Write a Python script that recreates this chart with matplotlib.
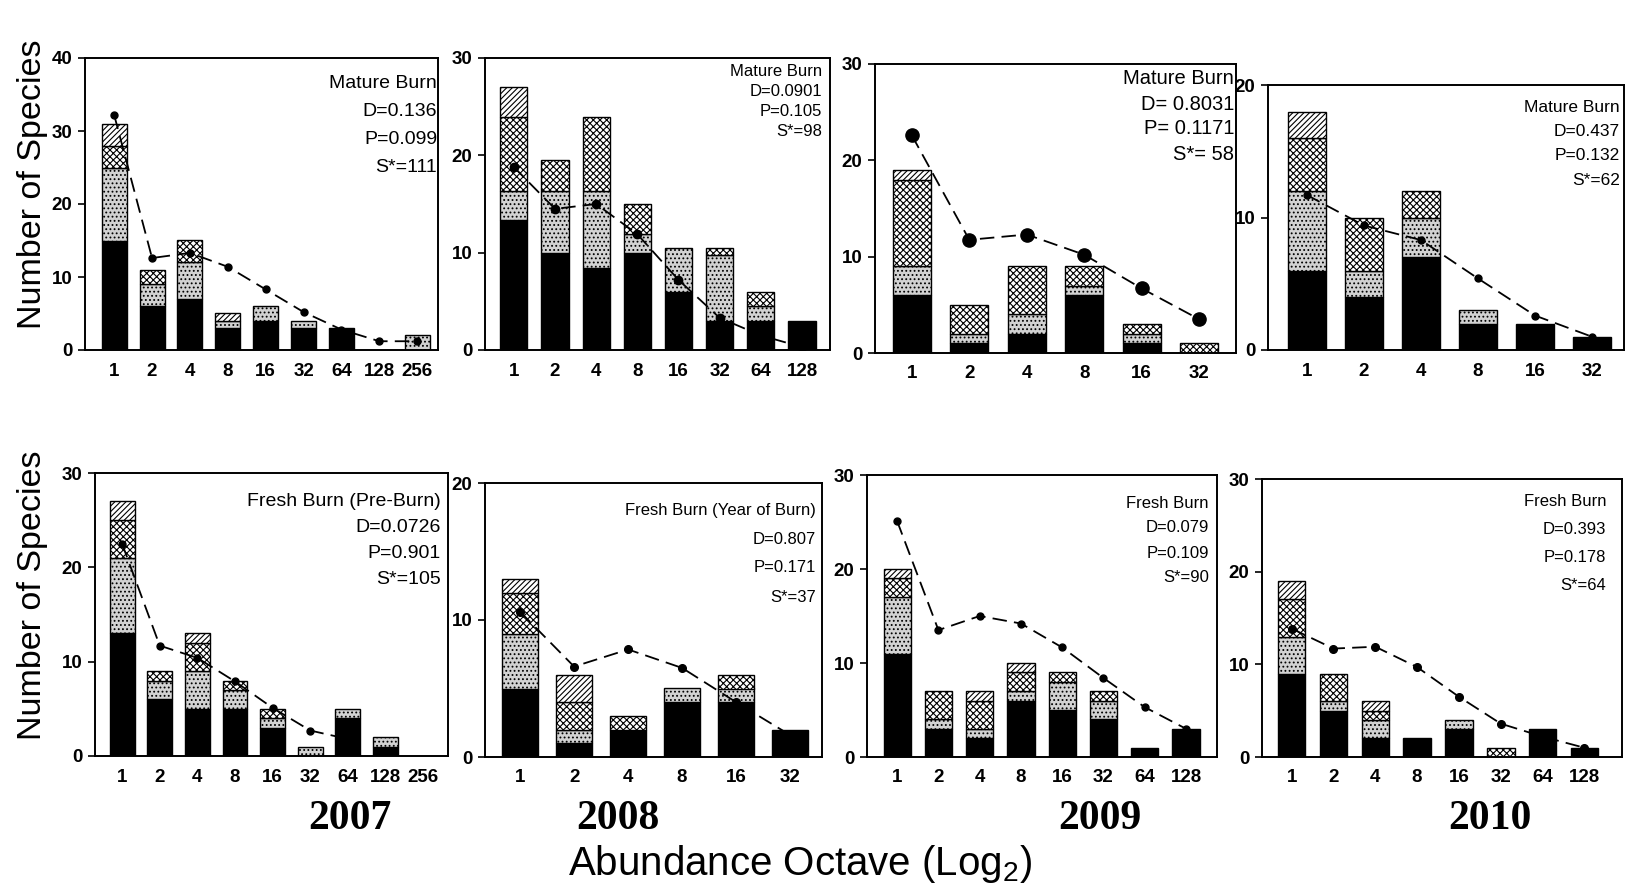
import numpy as np
import matplotlib
matplotlib.use("Agg")
import matplotlib.pyplot as plt

W, H = 1630, 893

# ---------------- data ----------------
oct9 = ['1', '2', '4', '8', '16', '32', '64', '128', '256']
oct8 = oct9[:8]
oct6 = oct9[:6]

# Mature burn
m07_black = [15, 6, 7, 3, 4, 3, 3, 0, 0]
m07_gray = [10, 3, 5, 1, 2, 1, 0, 0, 2]
m07_cross = [3, 2, 3, 0, 0, 0, 0, 0, 0]
m07_diag = [3, 0, 0, 1, 0, 0, 0, 0, 0]
m07_fit = [32.2, 12.6, 13.3, 11.4, 8.3, 5.2, 2.8, 1.2, 1.2]

m08_black = [13.4, 10, 8.4, 10, 6, 3, 3, 3]
m08_gray = [2.9, 6.3, 7.9, 1.9, 4.5, 6.8, 1.5, 0]
m08_cross = [7.6, 3.2, 7.6, 3.1, 0, 0.7, 1.5, 0]
m08_diag = [3.1, 0, 0, 0, 0, 0, 0, 0]
m08_fit = [18.8, 14.5, 15.0, 11.9, 7.2, 3.3, 1.5, 0.3]

m09_black = [6, 1, 2, 6, 1, 0]
m09_gray = [3, 1, 2, 1, 1, 0]
m09_cross = [9, 3, 5, 2, 1, 1]
m09_diag = [1, 0, 0, 0, 0, 0]
m09_fit = [22.6, 11.75, 12.3, 10.2, 6.7, 3.5]

m10_black = [6, 4, 7, 2, 2, 1]
m10_gray = [6, 2, 3, 1, 0, 0]
m10_cross = [4, 4, 2, 0, 0, 0]
m10_diag = [2, 0, 0, 0, 0, 0]
m10_fit = [11.7, 9.4, 8.3, 5.4, 2.6, 1.0]

# Fresh burn
f07_black = [13, 6, 5, 5, 3, 0, 4, 1, 0]
f07_gray = [8, 2, 4, 2, 1, 1, 1, 1, 0]
f07_cross = [4, 1, 3, 1, 1, 0, 0, 0, 0]
f07_diag = [2, 0, 1, 0, 0, 0, 0, 0, 0]
f07_fit = [22.5, 11.7, 10.4, 7.9, 5.1, 2.7, 1.8, np.nan, np.nan]

f08_black = [5, 1, 2, 4, 4, 2]
f08_gray = [4, 1, 0, 1, 1, 0]
f08_cross = [3, 2, 1, 0, 1, 0]
f08_diag = [1, 2, 0, 0, 0, 0]
f08_fit = [10.6, 6.6, 7.85, 6.5, 4.0, 1.6]

f09_black = [11, 3, 2, 6, 5, 4, 1, 3]
f09_gray = [6, 1, 1, 1, 3, 2, 0, 0]
f09_cross = [2, 3, 3, 2, 1, 1, 0, 0]
f09_diag = [1, 0, 1, 1, 0, 0, 0, 0]
f09_fit = [25.1, 13.5, 15.0, 14.2, 11.65, 8.4, 5.3, 3.0]

f10_black = [9, 5, 2, 2, 3, 0, 3, 1]
f10_gray = [4, 1, 2, 0, 1, 0, 0, 0]
f10_cross = [4, 3, 1, 0, 0, 1, 0, 0]
f10_diag = [2, 0, 1, 0, 0, 0, 0, 0]
f10_fit = [13.85, 11.7, 11.9, 9.7, 6.5, 3.6, 2.2, 1.0]

m07_text = ["Mature Burn", "D=0.136", "P=0.099", "S*=111"]
m08_text = ["Mature Burn", "D=0.0901", "P=0.105", "S*=98"]
m09_text = ["Mature Burn", "D= 0.8031", "P= 0.1171", "S*= 58"]
m10_text = ["Mature Burn", "D=0.437", "P=0.132", "S*=62"]
f07_text = ["Fresh Burn (Pre-Burn)", "D=0.0726", "P=0.901", "S*=105"]
f08_text = ["Fresh Burn (Year of Burn)", "D=0.807", "P=0.171", "S*=37"]
f09_text = ["Fresh Burn", "D=0.079", "P=0.109", "S*=90"]
f10_text = ["Fresh Burn", "D=0.393", "P=0.178", "S*=64"]

years = ['2007', '2008', '2009', '2010']

# ---------------- layout ----------------
# box = (left, top, right, bottom) in pixels, xpad = (left, right) in bar units
# tpos = (right x, first line y, line spacing, fontsize), ms = marker size
panels = [
    dict(lab=oct9, data=(m07_black, m07_gray, m07_cross, m07_diag), fit=m07_fit, txt=m07_text,
         box=(85, 58, 438, 350), xpad=(0.77, 0.55), ymax=40, tpos=(437, 83, 28, 14), ms=5),
    dict(lab=oct8, data=(m08_black, m08_gray, m08_cross, m08_diag), fit=m08_fit, txt=m08_text,
         box=(485, 58, 830, 350), xpad=(0.70, 0.68), ymax=30, tpos=(822, 72, 20, 12), ms=6),
    dict(lab=oct6, data=(m09_black, m09_gray, m09_cross, m09_diag), fit=m09_fit, txt=m09_text,
         box=(875, 64, 1236, 353), xpad=(0.64, 0.64), ymax=30, tpos=(1234, 79, 25, 14.5), ms=9.5),
    dict(lab=oct6, data=(m10_black, m10_gray, m10_cross, m10_diag), fit=m10_fit, txt=m10_text,
         box=(1268, 85, 1624, 350), xpad=(0.68, 0.56), ymax=20, tpos=(1620, 107, 24.5, 12.5), ms=5),
    dict(lab=oct9, data=(f07_black, f07_gray, f07_cross, f07_diag), fit=f07_fit, txt=f07_text,
         box=(95, 473, 448, 756), xpad=(0.72, 0.66), ymax=30, tpos=(441, 502, 26, 14), ms=5),
    dict(lab=oct6, data=(f08_black, f08_gray, f08_cross, f08_diag), fit=f08_fit, txt=f08_text,
         box=(485, 483, 822, 757), xpad=(0.65, 0.59), ymax=20, tpos=(816, 510, 29, 12), ms=5.5),
    dict(lab=oct8, data=(f09_black, f09_gray, f09_cross, f09_diag), fit=f09_fit, txt=f09_text,
         box=(867, 475, 1217, 757), xpad=(0.73, 0.75), ymax=30, tpos=(1209, 503, 25, 12), ms=5),
    dict(lab=oct8, data=(f10_black, f10_gray, f10_cross, f10_diag), fit=f10_fit, txt=f10_text,
         box=(1262, 479, 1622, 757), xpad=(0.71, 0.90), ymax=30, tpos=(1606, 502, 28, 12), ms=5.5),
]

plt.rcParams['font.family'] = ['Liberation Sans', 'DejaVu Sans']
plt.rcParams['hatch.linewidth'] = 0.8

styles = [
    dict(facecolor='black', edgecolor='black', hatch=None),
    dict(facecolor='#d2d2d2', edgecolor='black', hatch='....'),
    dict(facecolor='white', edgecolor='black', hatch='xxxxx'),
    dict(facecolor='white', edgecolor='black', hatch='//////'),
]

fig = plt.figure(figsize=(W / 100, H / 100), dpi=100)

for p in panels:
    l, t, r, b = p['box']
    ax = fig.add_axes([l / W, 1 - b / H, (r - l) / W, (b - t) / H])
    n = len(p['lab'])
    x = np.arange(n)
    bottom = np.zeros(n)
    for vals, st in zip(p['data'], styles):
        v = np.array(vals, dtype=float)
        m = v > 0
        ax.bar(x[m], v[m], 0.66, bottom=bottom[m], linewidth=1.0, zorder=2, **st)
        bottom += v
    ax.plot(x, p['fit'], color='black', lw=1.3, dashes=(8, 4), marker='o',
            ms=p['ms'], zorder=5)
    ax.set_xlim(-p['xpad'][0], n - 1 + p['xpad'][1])
    ax.set_ylim(0, p['ymax'])
    ax.set_yticks(np.arange(0, p['ymax'] + 1, 10))
    ax.set_xticks(x, p['lab'])
    ax.tick_params(axis='x', length=0, pad=9, labelsize=13.5)
    ax.tick_params(axis='y', direction='out', length=5, width=1.2, pad=4, labelsize=13.5)
    for lbl in ax.get_xticklabels() + ax.get_yticklabels():
        lbl.set_fontweight('bold')
    for s in ax.spines.values():
        s.set_linewidth(1.4)
    rx, ty, dy, fs = p['tpos']
    for i, s in enumerate(p['txt']):
        fig.text(rx / W, 1 - (ty + i * dy) / H, s, ha='right', va='center', fontsize=fs)

ylab = dict(rotation=90, ha='center', va='center', fontsize=24.5)
fig.text(33 / W, 1 - 184 / H, 'Number of Species', **ylab)
fig.text(33 / W, 1 - 595 / H, 'Number of Species', **ylab)

for yr, cx in zip(years, [350, 618, 1100, 1490]):
    fig.text(cx / W, 1 - 819 / H, yr, ha='center', va='center', fontsize=30,
             fontweight='bold', family='Liberation Serif')

fig.text(800 / W, 1 - 864 / H, r'Abundance Octave (Log$_\mathregular{2}$)', ha='center',
         va='center', fontsize=29)

fig.savefig('out.png', dpi=100)
